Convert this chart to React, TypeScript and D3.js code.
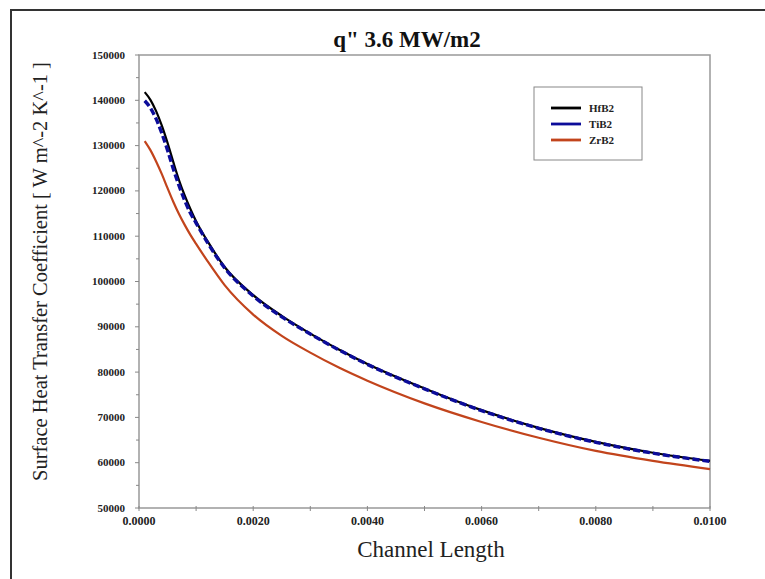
import React from "react";
import * as d3 from "d3";

const xs = [0.0001, 0.0002, 0.0003, 0.0004, 0.0005, 0.0006, 0.0007, 0.0008, 0.0009, 0.0010, 0.0012, 0.0015, 0.0020, 0.0025, 0.0030, 0.0035, 0.0040, 0.0050, 0.0060, 0.0070, 0.0080, 0.0090, 0.0100];
const hfb2 = [141800, 140100, 137600, 134400, 130600, 126400, 122400, 119000, 116000, 113300, 108900, 103200, 97000, 92400, 88500, 85000, 81800, 76400, 71600, 67700, 64600, 62200, 60400];
const tib2 = [139900, 138300, 135900, 132700, 129000, 124900, 121200, 117900, 115100, 112900, 108600, 103000, 96800, 92200, 88400, 84900, 81700, 76300, 71500, 67600, 64500, 62100, 60300];
const zrb2 = [131000, 129000, 126500, 123700, 120600, 117600, 114900, 112500, 110300, 108300, 104500, 99200, 92700, 88000, 84300, 81000, 78100, 73100, 69000, 65500, 62600, 60400, 58600];

const seriesNames = ["HfB2", "TiB2", "ZrB2"];
const seriesColors = ["#000000", "#0c0c9a", "#c2441c"];

const yTicks = [50000, 60000, 70000, 80000, 90000, 100000, 110000, 120000, 130000, 140000, 150000];
const xTicks = [0, 0.002, 0.004, 0.006, 0.008, 0.01];

const titleText = 'q" 3.6 MW/m2';
const xLabel = "Channel Length";
const yLabel = "Surface Heat Transfer Coefficient [ W m^-2 K^-1 ]";

export default function App() {
  const left = 139, right = 710, top = 55, bottom = 508;
  const x = d3.scaleLinear().domain([0, 0.01]).range([left, right]);
  const y = d3.scaleLinear().domain([50000, 150000]).range([bottom, top]);
  const serif = "'Liberation Serif', 'Times New Roman', serif";
  const line = d3
    .line<number>()
    .x((_, i) => x(xs[i]))
    .y((d) => y(d))
    .curve(d3.curveMonotoneX);

  const yMinor = d3.range(55000, 150000, 10000);
  const xMinor = d3.range(0.001, 0.01, 0.002);
  const fy = d3.format("d");
  const fx = d3.format(".4f");

  return (
    <svg
      width={765}
      height={579}
      style={{ position: "absolute", left: 0, top: 0, background: "#fff" }}
    >
      <rect x={0} y={0} width={765} height={579} fill="#fff" />
      <rect x={11} y={10} width={800} height={620} fill="none" stroke="#333" strokeWidth={2} />

      <text x={407} y={47} textAnchor="middle" fontFamily={serif} fontWeight="bold" fontSize={23} fill="#111">
        {titleText}
      </text>

      <rect x={left} y={top} width={right - left} height={bottom - top} fill="none" stroke="#999" strokeWidth={1.5} />

      {yTicks.map((t) => (
        <g key={"y" + t}>
          <line x1={left - 4} x2={left} y1={y(t)} y2={y(t)} stroke="#888" strokeWidth={1} />
          <text x={left - 14} y={y(t) + 3.5} textAnchor="end" fontFamily={serif} fontWeight="bold" fontSize={11} fill="#222">
            {fy(t)}
          </text>
        </g>
      ))}
      {yMinor.map((t) => (
        <line key={"ym" + t} x1={left - 3} x2={left} y1={y(t)} y2={y(t)} stroke="#888" strokeWidth={1} />
      ))}

      {xTicks.map((t) => (
        <g key={"x" + t}>
          <line x1={x(t)} x2={x(t)} y1={bottom - 2} y2={bottom + 3} stroke="#888" strokeWidth={1} />
          <text x={x(t)} y={bottom + 17} textAnchor="middle" fontFamily={serif} fontWeight="bold" fontSize={12} fill="#222">
            {fx(t)}
          </text>
        </g>
      ))}
      {xMinor.map((t) => (
        <line key={"xm" + t} x1={x(t)} x2={x(t)} y1={bottom - 2} y2={bottom + 3} stroke="#888" strokeWidth={1} />
      ))}

      <text x={431} y={557} textAnchor="middle" fontFamily={serif} fontSize={23} fill="#222">
        {xLabel}
      </text>
      <text
        transform={`translate(47, ${(top + bottom) / 2 - 10}) rotate(-90)`}
        textAnchor="middle"
        fontFamily={serif}
        fontSize={20.5}
        fill="#222"
      >
        {yLabel}
      </text>

      <path d={line(hfb2) || ""} fill="none" stroke={seriesColors[0]} strokeWidth={2.2} />
      <path d={line(tib2) || ""} fill="none" stroke={seriesColors[1]} strokeWidth={3.4} strokeDasharray="7,3" />
      <path d={line(zrb2) || ""} fill="none" stroke={seriesColors[2]} strokeWidth={2.2} />

      <rect x={534} y={87} width={108} height={73} fill="#fff" stroke="#888" strokeWidth={1} />
      {seriesNames.map((n, i) => (
        <g key={n}>
          <line x1={551} x2={581} y1={108 + i * 16} y2={108 + i * 16} stroke={seriesColors[i]} strokeWidth={2.8} />
          <text x={589} y={108 + i * 16 + 4} fontFamily={serif} fontWeight="bold" fontSize={11} fill="#222">
            {n}
          </text>
        </g>
      ))}
    </svg>
  );
}
